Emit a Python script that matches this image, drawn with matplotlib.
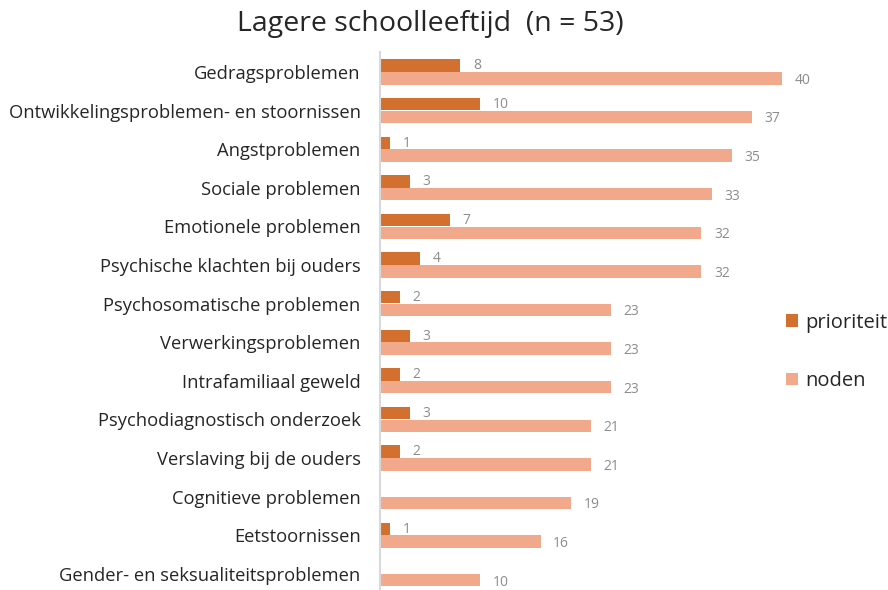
import matplotlib
matplotlib.use("Agg")
import matplotlib.pyplot as plt
import numpy as np

categories = [
    "Gedragsproblemen",
    "Ontwikkelingsproblemen- en stoornissen",
    "Angstproblemen",
    "Sociale problemen",
    "Emotionele problemen",
    "Psychische klachten bij ouders",
    "Psychosomatische problemen",
    "Verwerkingsproblemen",
    "Intrafamiliaal geweld",
    "Psychodiagnostisch onderzoek",
    "Verslaving bij de ouders",
    "Cognitieve problemen",
    "Eetstoornissen",
    "Gender- en seksualiteitsproblemen",
]
prioriteit = [8, 10, 1, 3, 7, 4, 2, 3, 2, 3, 2, None, 1, None]
noden = [40, 37, 35, 33, 32, 32, 23, 23, 23, 21, 21, 19, 16, 10]

c_prio = "#D4702F"
c_noden = "#F2A88A"
label_col = "#8C8C8C"

plt.rcParams['font.family'] = ['Open Sans', 'DejaVu Sans']

fig = plt.figure(figsize=(8.88, 5.9), dpi=100)
W, H = 888, 590
ax_left, ax_right = 380, 822
ax_top, ax_bot = 52, 590
ax = fig.add_axes([ax_left / W, 1 - ax_bot / H, (ax_right - ax_left) / W, (ax_bot - ax_top) / H])

y = np.arange(len(categories))
bh = 0.32
pv = [np.nan if v is None else v for v in prioriteit]
b1 = ax.barh(y - bh / 2 - 0.005, pv, height=bh, color=c_prio, label="prioriteit")
b2 = ax.barh(y + bh / 2 + 0.005, noden, height=bh, color=c_noden, label="noden")

for yi, v in zip(y, prioriteit):
    if v is None:
        continue
    ax.annotate(str(v), (v, yi - bh / 2), xytext=(9, 0), textcoords="offset points",
                va="center", ha="left", fontsize=10, color=label_col, annotation_clip=False)
for yi, v in zip(y, noden):
    ax.annotate(str(v), (v, yi + bh / 2), xytext=(9, -1.5), textcoords="offset points",
                va="center", ha="left", fontsize=10, color=label_col, annotation_clip=False)

ax.set_xlim(0, 44)
ax.set_ylim(13.42, -0.518)
ax.set_yticks(y)
ax.set_yticklabels(categories, fontsize=13.2, color="#262626")
ax.tick_params(axis="y", length=0, pad=14)
ax.set_xticks([])
for s in ["top", "right", "bottom"]:
    ax.spines[s].set_visible(False)
ax.spines["left"].set_color("#D9D9D9")
ax.spines["left"].set_linewidth(1.5)

fig.text(430 / W, 1 - 24 / H, "Lagere schoolleeftijd  (n = 53)", ha="center", va="center",
         fontsize=20.5, color="#262626")

fig.legend(handles=[b1, b2], loc="center left", bbox_to_anchor=(768 / W, 1 - 352 / H),
           frameon=False, fontsize=14.5, handlelength=0.6, handleheight=0.6,
           handletextpad=0.35, labelspacing=1.9, labelcolor="#262626")

fig.savefig("out.png", dpi=100)
